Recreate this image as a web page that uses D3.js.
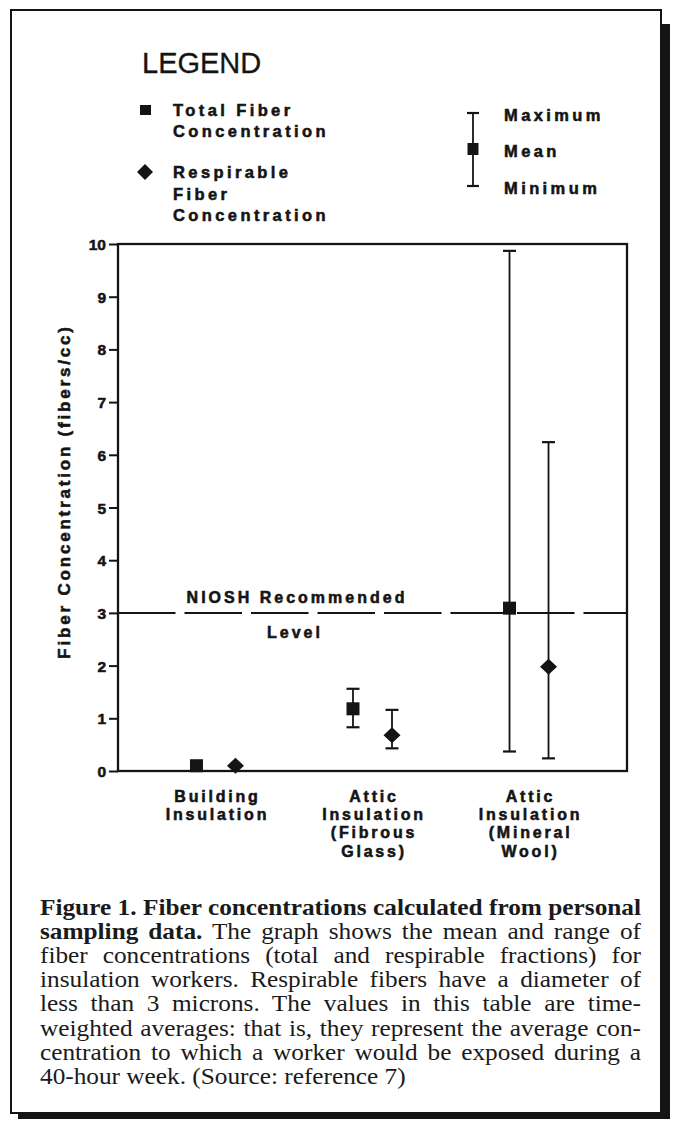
<!DOCTYPE html>
<html lang="en">
<head>
<meta charset="UTF-8">
<title>Fiber Concentrations</title>
<style>
  body { margin: 0; background: #fff; }
  svg { display: block; }
  .sans { font-family: "Liberation Sans", Arial, sans-serif; fill: #141414; }
  .heavy { font-weight: bold; stroke: #141414; stroke-width: 0.55px; }
  .serif { font-family: "Liberation Serif", "Times New Roman", serif; fill: #1a1a1a; }
</style>
</head>
<body>
<svg id="chart" width="675" height="1125"></svg>
<script src="https://d3js.org/d3.v7.min.js"></script>
<script>
// ---- data ----
var categories = ["Building Insulation", "Attic Insulation (Fibrous Glass)", "Attic Insulation (Mineral Wool)"];
var categoryLines = [["Building", "Insulation"], ["Attic", "Insulation", "(Fibrous", "Glass)"], ["Attic", "Insulation", "(Mineral", "Wool)"]];
var series = ["Total Fiber Concentration", "Respirable Fiber Concentration"];

var totalMean = [0.10, 1.18, 3.09];
var totalMin  = [0.10, 0.83, 0.37];
var totalMax  = [0.10, 1.56, 9.87];

var respMean = [0.10, 0.68, 1.98];
var respMin  = [0.10, 0.43, 0.24];
var respMax  = [0.10, 1.16, 6.24];

var yTicks = [0, 1, 2, 3, 4, 5, 6, 7, 8, 9, 10];
var nioshLevel = 3;

var captionLines = [
  [["Figure 1. Fiber concentrations calculated from personal", true]],
  [["sampling data.", true], [" The graph shows the mean and range of", false]],
  [["fiber concentrations (total and respirable fractions) for", false]],
  [["insulation workers. Respirable fibers have a diameter of", false]],
  [["less than 3 microns. The values in this table are time-", false]],
  [["weighted averages: that is, they represent the average con-", false]],
  [["centration to which a worker would be exposed during a", false]],
  [["40-hour week. (Source: reference 7)", false]]
];

var svg = d3.select("#chart");
var ink = "#141414";

// ---- page frame with drop shadow ----
svg.append("rect").attr("x", 661).attr("y", 24).attr("width", 9).attr("height", 1095).attr("fill", ink);
svg.append("rect").attr("x", 18).attr("y", 1113).attr("width", 652).attr("height", 6).attr("fill", ink);
svg.append("rect")
   .attr("x", 11).attr("y", 10).attr("width", 650).attr("height", 1103)
   .attr("fill", "#fff").attr("stroke", ink).attr("stroke-width", 2);

// ---- scales ----
var x = d3.scalePoint().domain(categories).range([118, 627]).padding(0.626);
var offset = d3.scalePoint().domain(series).range([-19.5, 19.5]);
var y = d3.scaleLinear().domain([0, 10]).range([771, 244]);

// plot box
svg.append("rect")
   .attr("x", x.range()[0]).attr("y", y(10))
   .attr("width", x.range()[1] - x.range()[0]).attr("height", y(0) - y(10))
   .attr("fill", "none").attr("stroke", ink).attr("stroke-width", 2.3);

// Values on Y Axis
var yAxis = svg.append("g")
   .attr("transform", "translate(" + x.range()[0] + ",0)")
   .call(d3.axisLeft(y).tickValues(yTicks).tickSize(9).tickPadding(3));
yAxis.select(".domain").remove();
yAxis.selectAll("line").attr("stroke", ink).attr("stroke-width", 2);
yAxis.selectAll("text")
   .attr("class", "sans heavy")
   .attr("dy", "0.36em")
   .style("font-size", "15.5px");

// Label for Y Axis
svg.append("text")
   .attr("class", "sans heavy")
   .attr("transform", "translate(70," + ((y(0) + y(10)) / 2 - 16) + ") rotate(-90)")
   .attr("text-anchor", "middle")
   .style("font-size", "17px").style("letter-spacing", "2.8px")
   .text("Fiber Concentration (fibers/cc)");

// Category labels on X Axis
categories.forEach(function(c, i) {
  var t = svg.append("text")
     .attr("class", "sans heavy")
     .attr("text-anchor", "middle")
     .style("font-size", "16px").style("letter-spacing", "2.8px");
  categoryLines[i].forEach(function(line, j) {
    t.append("tspan").attr("x", x(c) + 1.5).attr("y", 802 + j * 18.2).text(line);
  });
});

// NIOSH recommended level
svg.append("line")
   .attr("x1", x.range()[0]).attr("x2", x.range()[1])
   .attr("y1", y(nioshLevel)).attr("y2", y(nioshLevel))
   .attr("stroke", ink).attr("stroke-width", 2)
   .attr("stroke-dasharray", "57.5 9");
svg.append("text").attr("class", "sans heavy")
   .attr("x", 297).attr("y", y(nioshLevel) - 10)
   .attr("text-anchor", "middle")
   .style("font-size", "16px").style("letter-spacing", "3px")
   .text("NIOSH Recommended");
svg.append("text").attr("class", "sans heavy")
   .attr("x", 295).attr("y", y(nioshLevel) + 25)
   .attr("text-anchor", "middle")
   .style("font-size", "16px").style("letter-spacing", "3px")
   .text("Level");

// ---- error bars and markers ----
function drawSeries(name, mean, lo, hi, shape) {
  var rows = categories.map(function(c, i) {
    return { cx: x(c) + offset(name), mean: mean[i], lo: lo[i], hi: hi[i] };
  });
  var bars = rows.filter(function(d) { return d.hi > d.lo; });
  svg.selectAll(null).data(bars).enter().append("line")
     .attr("x1", function(d) { return d.cx; }).attr("x2", function(d) { return d.cx; })
     .attr("y1", function(d) { return y(d.lo); }).attr("y2", function(d) { return y(d.hi); })
     .attr("stroke", ink).attr("stroke-width", 1.8);
  ["lo", "hi"].forEach(function(k) {
    svg.selectAll(null).data(bars).enter().append("line")
       .attr("x1", function(d) { return d.cx - 6.5; }).attr("x2", function(d) { return d.cx + 6.5; })
       .attr("y1", function(d) { return y(d[k]); }).attr("y2", function(d) { return y(d[k]); })
       .attr("stroke", ink).attr("stroke-width", 2.2);
  });
  if (shape === "square") {
    svg.selectAll(null).data(rows).enter().append("rect")
       .attr("x", function(d) { return d.cx - 6.5; })
       .attr("y", function(d) { return y(d.mean) - 6.5; })
       .attr("width", 13).attr("height", 13).attr("fill", ink);
  } else {
    svg.selectAll(null).data(rows).enter().append("path")
       .attr("d", function(d) {
         var cx = d.cx, cy = y(d.mean);
         return "M" + cx + "," + (cy - 8) + "L" + (cx + 8.5) + "," + cy + "L" + cx + "," + (cy + 8) + "L" + (cx - 8.5) + "," + cy + "Z";
       })
       .attr("fill", ink);
  }
}
drawSeries(series[0], totalMean, totalMin, totalMax, "square");
drawSeries(series[1], respMean, respMin, respMax, "diamond");

// ---- legend ----
var legend = svg.append("g");
legend.append("text").attr("class", "sans")
   .attr("x", 142).attr("y", 73)
   .style("font-size", "29px").style("stroke", ink).style("stroke-width", "0.3px")
   .text("LEGEND");

legend.append("rect").attr("x", 140).attr("y", 105).attr("width", 11).attr("height", 10).attr("fill", ink);
legend.append("path").attr("d", "M145,164L153,172L145,180L137,172Z").attr("fill", ink);

function legendText(lines, x0, y0, step) {
  var t = legend.append("text").attr("class", "sans heavy")
     .style("font-size", "16.5px").style("letter-spacing", "3.4px");
  lines.forEach(function(l, j) {
    t.append("tspan").attr("x", x0).attr("y", y0 + j * step).text(l);
  });
}
legendText(["Total Fiber", "Concentration"], 173, 116, 21);
legendText(["Respirable", "Fiber", "Concentration"], 173, 178, 21.5);

legend.append("line").attr("x1", 473).attr("x2", 473).attr("y1", 113).attr("y2", 186).attr("stroke", ink).attr("stroke-width", 1.8);
legend.append("line").attr("x1", 467).attr("x2", 479).attr("y1", 113).attr("y2", 113).attr("stroke", ink).attr("stroke-width", 2.2);
legend.append("line").attr("x1", 467).attr("x2", 479).attr("y1", 186).attr("y2", 186).attr("stroke", ink).attr("stroke-width", 2.2);
legend.append("rect").attr("x", 467.5).attr("y", 143).attr("width", 11).attr("height", 12).attr("fill", ink);
legendText(["Maximum"], 504, 121, 0);
legendText(["Mean"], 504, 157, 0);
legendText(["Minimum"], 504, 194, 0);

// ---- caption, justified ----
var capScale = 1.1, capLeft = 40, capRight = 641;
captionLines.forEach(function(parts, i) {
  var g = svg.append("g")
     .attr("transform", "translate(" + capLeft + "," + (915 + i * 24.1) + ") scale(" + capScale + ",1)");
  var t = g.append("text").attr("class", "serif").attr("x", 0).attr("y", 0).style("font-size", "23px");
  parts.forEach(function(p) {
    t.append("tspan").style("font-weight", p[1] ? "bold" : "normal").text(p[0]);
  });
  if (i < captionLines.length - 1) {
    var natural = t.node().getComputedTextLength();
    var spaces = parts.map(function(p) { return p[0]; }).join("").split(" ").length - 1;
    var target = (capRight - capLeft) / capScale;
    t.style("word-spacing", ((target - natural) / spaces) + "px");
  }
});
</script>
</body>
</html>
